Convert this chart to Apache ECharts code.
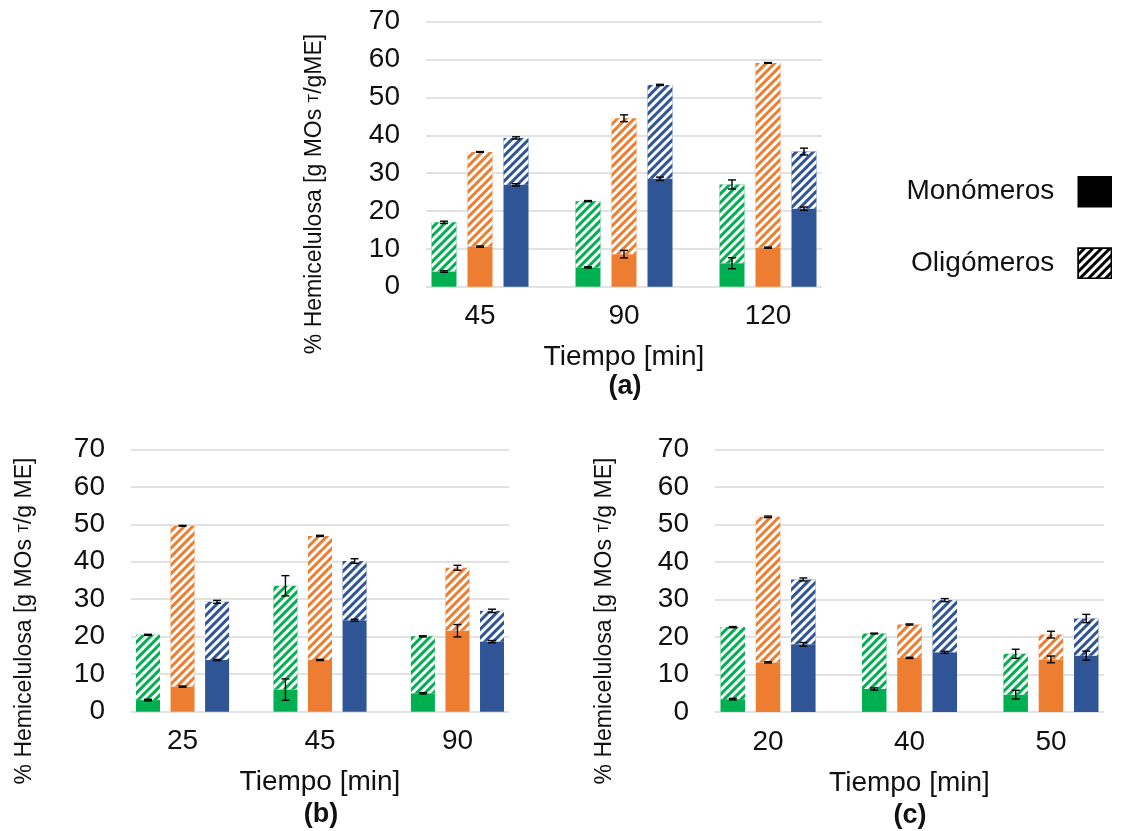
<!DOCTYPE html>
<html>
<head>
<meta charset="utf-8">
<script src="https://cdn.jsdelivr.net/npm/echarts@6/dist/echarts.min.js"></script>
<style>
  html, body { margin: 0; padding: 0; background: #fff; }
  #chart { width: 1124px; height: 831px; }
</style>
</head>
<body>
<div id="chart"></div>
<script>
// Hemicellulose recovered as monomers (solid) and oligomers (hatched),
// three conditions per time point (green / orange / blue).

const barColors = ['#00B050', '#ED7D31', '#2F5597'];

// ---- Panel (a) ----
const timesA = ['45', '90', '120'];
const monoA = [[4.0, 5.1, 6.2], [10.6, 8.6, 10.3], [26.9, 28.5, 20.6]];
const monoErrA = [[0.2, 0.15, 1.45], [0.15, 1.0, 0.15], [0.3, 0.45, 0.45]];
const totalA = [[17.0, 22.6, 27.0], [35.6, 44.5, 59.1], [39.3, 53.3, 35.7]];
const totalErrA = [[0.3, 0.15, 1.2], [0.1, 0.9, 0.1], [0.3, 0.15, 0.9]];

// ---- Panel (b) ----
const timesB = ['25', '45', '90'];
const monoB = [[3.1, 5.9, 4.9], [6.7, 13.8, 21.6], [13.8, 24.4, 18.7]];
const monoErrB = [[0.2, 2.85, 0.15], [0.15, 0.15, 1.65], [0.15, 0.25, 0.3]];
const totalB = [[20.5, 33.6, 20.1], [49.6, 46.9, 38.4], [29.3, 40.2, 26.9]];
const totalErrB = [[0.15, 2.7, 0.15], [0.1, 0.15, 0.65], [0.4, 0.6, 0.45]];

// ---- Panel (c) ----
const timesC = ['20', '40', '50'];
const monoC = [[3.4, 6.1, 4.6], [13.2, 14.4, 14.0], [18.0, 15.9, 15.0]];
const monoErrC = [[0.2, 0.3, 1.15], [0.15, 0.15, 0.9], [0.5, 0.25, 1.2]];
const totalC = [[22.6, 20.9, 15.5], [52.0, 23.3, 20.6], [35.3, 29.8, 24.9]];
const totalErrC = [[0.15, 0.1, 1.2], [0.2, 0.15, 0.9], [0.4, 0.4, 1.1]];

const yMax = 70;
const yStep = 10;
const xTitle = 'Tiempo [min]';
const legendNames = ['Monómeros', 'Oligómeros'];

const panels = [
  { key: '(a)', cats: timesA, mono: monoA, monoErr: monoErrA, total: totalA, totalErr: totalErrA,
    yTitle: '{n|% Hemicelulosa [g MOs }{s|T}{n|/gME]}' },
  { key: '(b)', cats: timesB, mono: monoB, monoErr: monoErrB, total: totalB, totalErr: totalErrB,
    yTitle: '{n|% Hemicelulosa [g MOs }{s|T}{n|/g ME]}' },
  { key: '(c)', cats: timesC, mono: monoC, monoErr: monoErrC, total: totalC, totalErr: totalErrC,
    yTitle: '{n|% Hemicelulosa [g MOs }{s|T}{n|/g ME]}' }
];

// Placement of each panel: plot left edge / width (gridline span), top / height,
// bar width, y-title centre and panel letter centre.
const layouts = [
  { left: 426, width: 396, top: 21.7, height: 265, barW: 25, yt: [315, 194], letter: [625, 387] },
  { left: 131, width: 378, top: 449.3, height: 262.4, barW: 24, yt: [25, 621], letter: [321, 815] },
  { left: 715, width: 389, top: 449.3, height: 262.6, barW: 24.5, yt: [605, 621], letter: [910, 816] }
];

const FONT = '"Liberation Sans", Arial, sans-serif';
const TXT = '#111';
const GAP = 0.44;

// white diagonal stripes ("/") laid over the bar colour
const hatch = {
  symbol: 'rect', symbolSize: 1, color: '#ffffff',
  dashArrayX: [1, 0], dashArrayY: [2.3, 2.5], rotation: -Math.PI / 4
};

const grids = [], xAxes = [], yAxes = [], series = [], graphics = [];

panels.forEach((p, pi) => {
  const L = layouts[pi];
  const catW = L.width / 2.75;
  const barGrid = grids.length;
  // grid holding the bars: full category bands
  grids.push({ left: L.left - 0.125 * catW, width: 3 * catW, top: L.top, height: L.height });
  // grid holding the gridlines and y labels
  grids.push({ left: L.left, width: L.width, top: L.top, height: L.height });
  const lineGrid = barGrid + 1;

  xAxes.push({
    gridIndex: barGrid, type: 'category', data: p.cats, boundaryGap: true,
    axisLine: { show: false }, axisTick: { show: false },
    axisLabel: { fontSize: 28, color: TXT, fontFamily: FONT, margin: 16 },
    name: xTitle, nameLocation: 'middle', nameGap: 57,
    nameTextStyle: { fontSize: 28, color: TXT, fontFamily: FONT }
  });
  xAxes.push({ gridIndex: lineGrid, type: 'value', min: 0, max: 1, show: false });

  yAxes.push({ gridIndex: barGrid, type: 'value', min: 0, max: yMax, interval: yStep, show: false });
  yAxes.push({
    gridIndex: lineGrid, type: 'value', min: 0, max: yMax, interval: yStep,
    axisLine: { show: false }, axisTick: { show: false },
    axisLabel: { fontSize: 28, color: TXT, fontFamily: FONT, margin: 26 },
    splitLine: { show: true, lineStyle: { color: '#d9d9d9', width: 1.5 } }
  });

  const errData = [];
  barColors.forEach((col, k) => {
    const stack = 'p' + pi + 'c' + k;
    series.push({
      type: 'bar', name: stack + '-mono', stack: stack,
      xAxisIndex: barGrid, yAxisIndex: barGrid,
      barWidth: L.barW, barGap: (GAP * 100) + '%',
      itemStyle: { color: col },
      data: p.mono[k]
    });
    series.push({
      type: 'bar', name: stack + '-oligo', stack: stack,
      xAxisIndex: barGrid, yAxisIndex: barGrid,
      barWidth: L.barW, barGap: (GAP * 100) + '%',
      itemStyle: { color: col, decal: hatch },
      data: p.total[k].map((t, i) => +(t - p.mono[k][i]).toFixed(2))
    });
    p.cats.forEach((c, i) => {
      errData.push([i, p.mono[k][i], p.monoErr[k][i], k]);
      errData.push([i, p.total[k][i], p.totalErr[k][i], k]);
    });
  });

  const stride = L.barW * (1 + GAP);
  series.push({
    type: 'custom', name: 'err' + pi, xAxisIndex: barGrid, yAxisIndex: barGrid, z: 10,
    data: errData,
    renderItem: (params, api) => {
      const i = api.value(0), v = api.value(1), e = api.value(2), k = api.value(3);
      const hi = api.coord([i, v + e]);
      const lo = api.coord([i, v - e]);
      const x = hi[0] + (k - 1) * stride;
      const cap = 4;
      const st = { stroke: '#000', lineWidth: 1.4 };
      return {
        type: 'group',
        children: [
          { type: 'line', shape: { x1: x, y1: hi[1], x2: x, y2: lo[1] }, style: st },
          { type: 'line', shape: { x1: x - cap, y1: hi[1], x2: x + cap, y2: hi[1] }, style: st },
          { type: 'line', shape: { x1: x - cap, y1: lo[1], x2: x + cap, y2: lo[1] }, style: st }
        ]
      };
    }
  });

  graphics.push({
    type: 'text', x: L.yt[0], y: L.yt[1], rotation: Math.PI / 2,
    style: {
      text: p.yTitle, align: 'center', verticalAlign: 'middle',
      rich: {
        n: { fontSize: 23, fontFamily: FONT, fill: TXT },
        s: { fontSize: 14, fontFamily: FONT, fill: TXT, padding: [0, 0, 1, 0] }
      }
    }
  });
  graphics.push({
    type: 'text', x: L.letter[0], y: L.letter[1],
    style: { text: p.key, align: 'center', verticalAlign: 'middle',
      fontSize: 27, fontWeight: 'bold', fontFamily: FONT, fill: TXT }
  });
});

// Legend entries (empty series carrying the legend swatches)
series.push({ type: 'bar', name: legendNames[0], xAxisIndex: 1, yAxisIndex: 1, data: [],
  itemStyle: { color: '#000' } });
series.push({ type: 'bar', name: legendNames[1], xAxisIndex: 1, yAxisIndex: 1, data: [],
  itemStyle: { color: '#000', decal: Object.assign({}, hatch, { dashArrayY: [2.8, 2.8] }) } });

const chart = echarts.init(document.getElementById('chart'), null, { renderer: 'canvas' });
chart.setOption({
  animation: false,
  backgroundColor: '#fff',
  grid: grids,
  xAxis: xAxes,
  yAxis: yAxes,
  legend: {
    data: legendNames.map(n => ({ name: n, icon: 'rect' })),
    orient: 'vertical', right: 12, top: 176, padding: 0,
    align: 'right', itemWidth: 33, itemHeight: 30, itemGap: 40,
    selectedMode: false,
    textStyle: { fontSize: 28, color: TXT, fontFamily: FONT, padding: [0, 19, 0, 0] },
    itemStyle: { borderColor: '#000', borderWidth: 1.5 }
  },
  graphic: graphics,
  series: series
});
</script>
</body>
</html>
